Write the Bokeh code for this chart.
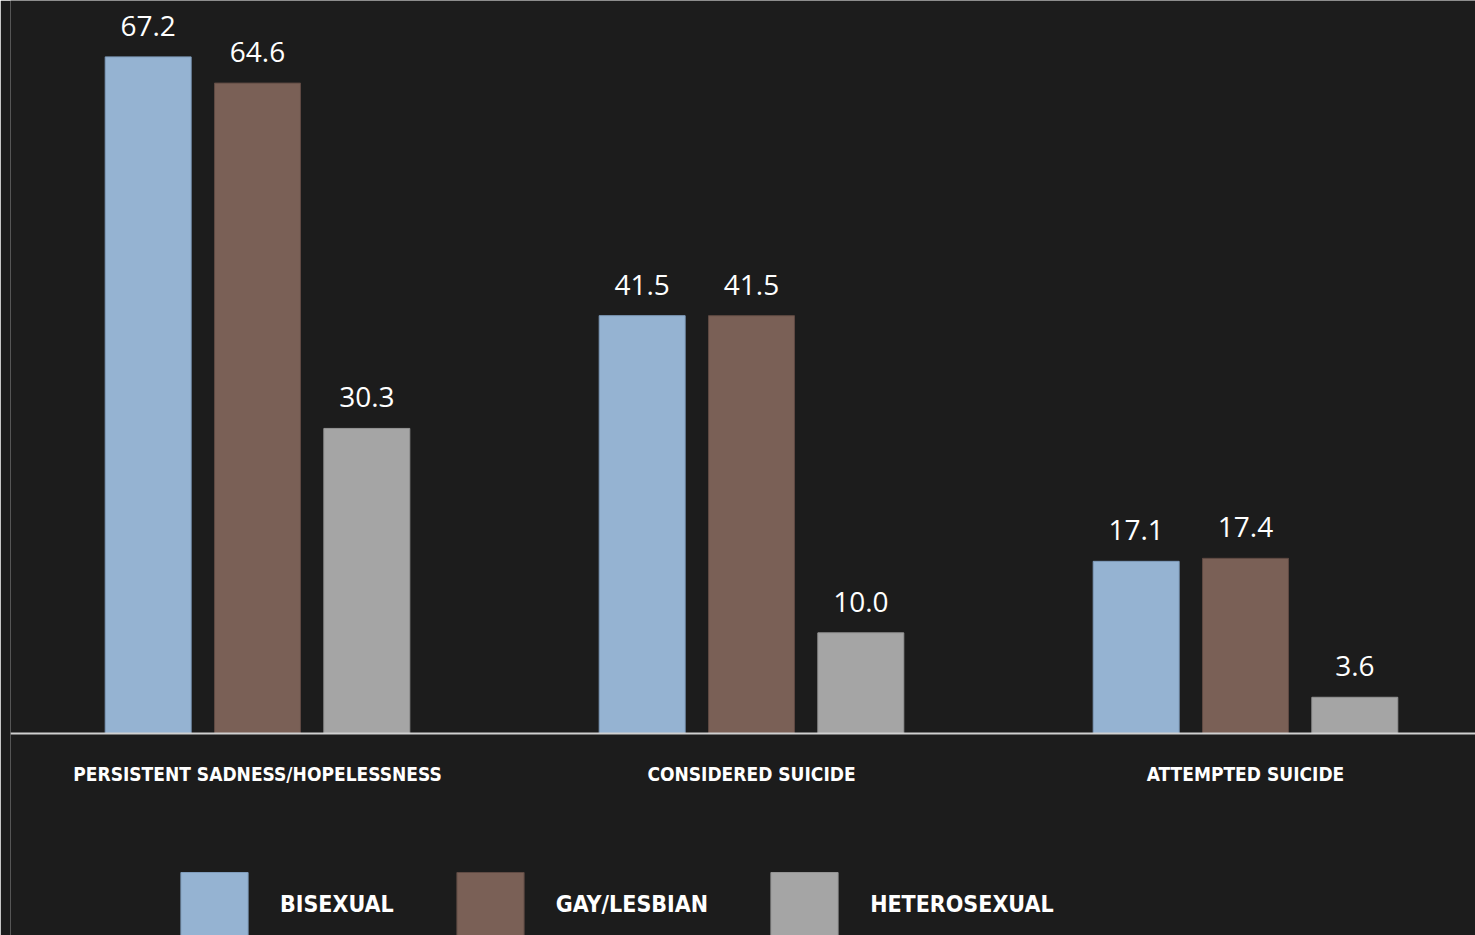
from bokeh.plotting import figure
from bokeh.models import ColumnDataSource, Range1d, Span, Legend, LegendItem
from bokeh.transform import dodge
from bokeh.core.properties import value
from bokeh.embed import file_html
from bokeh.resources import INLINE

categories = ["PERSISTENT SADNESS/HOPELESSNESS", "CONSIDERED SUICIDE", "ATTEMPTED SUICIDE"]
series = ["BISEXUAL", "GAY/LESBIAN", "HETEROSEXUAL"]
bisexual = [67.2, 41.5, 17.1]
gay_lesbian = [64.6, 41.5, 17.4]
heterosexual = [30.3, 10.0, 3.6]

colors = ["#95b3d2", "#7a6056", "#a5a5a5"]
outline = ["#7f9cbb", "#5f4a43", "#949494"]
values_by_series = [bisexual, gay_lesbian, heterosexual]

BG = "#1c1c1c"
W, H = 1475, 935
COND = "'DejaVu Sans Condensed', 'Liberation Sans Narrow', 'Roboto Condensed', Roboto"

p = figure(width=W, height=H, output_backend="svg", toolbar_location=None,
           x_range=Range1d(-0.5, 2.4656), y_range=Range1d(-20.06, 72.8),
           min_border_left=10, min_border_right=0, min_border_top=0, min_border_bottom=0,
           background_fill_color=BG, border_fill_color=BG, outline_line_color=None)
p.xaxis.visible = False
p.yaxis.visible = False
p.xgrid.visible = False
p.ygrid.visible = False

xs = list(range(len(categories)))
offsets = [-0.2213, 0.0, 0.2213]
width = 0.174

items = []
for name, vals, c, oc, off in zip(series, values_by_series, colors, outline, offsets):
    src = ColumnDataSource(dict(x=xs, top=vals, lbl=["{:.1f}".format(v) for v in vals]))
    r = p.vbar(x=dodge("x", off, range=p.x_range), top="top", bottom=0, width=width,
               source=src, fill_color=c, line_color=oc, line_width=1)
    p.text(x=dodge("x", off, range=p.x_range), y="top", text="lbl", source=src,
           text_align="center", text_baseline="middle", y_offset=-31,
           text_color="white", text_font=value("Open Sans"), text_font_size="28px")
    items.append(LegendItem(label=name, renderers=[r]))

p.add_layout(Span(location=0, dimension="width", line_color="#d0d0d0", line_width=2))

csrc = ColumnDataSource(dict(x=xs, y=[-4.07] * len(xs), t=categories))
p.text(x="x", y="y", text="t", source=csrc, text_align="center", text_baseline="middle",
       text_color="white", text_font=value(COND), text_font_style="bold",
       text_font_size="19px")

legend = Legend(items=items, orientation="horizontal", location=(162, -9),
                glyph_width=84, glyph_height=80, label_standoff=24, spacing=54,
                padding=0, margin=0, border_line_color=None, background_fill_alpha=0,
                label_text_color="white", label_text_font=COND,
                label_text_font_style="bold", label_text_font_size="23px")
p.add_layout(legend, "center")

open("out.html", "w").write(file_html(p, INLINE))
